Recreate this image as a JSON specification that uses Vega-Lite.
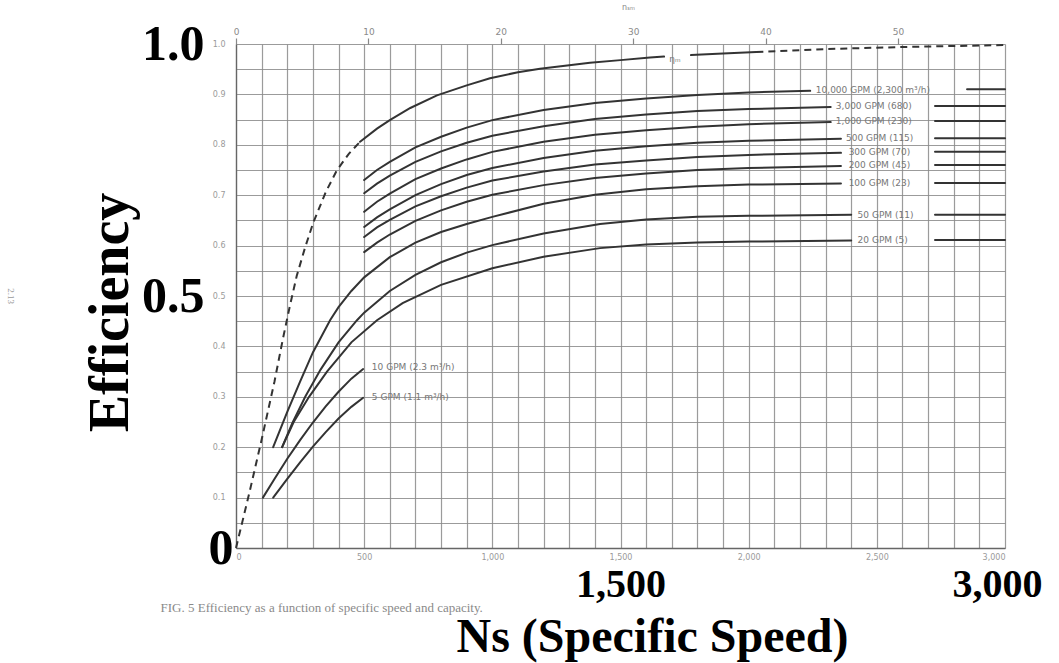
{
  "$schema": "https://vega.github.io/schema/vega-lite/v6.json",
  "width": 769,
  "height": 504,
  "autosize": {"type": "none"},
  "padding": {"left": 236, "top": 44, "right": 54, "bottom": 115},
  "background": "#ffffff",
  "title": {"text": "2.13", "orient": "left", "anchor": "middle", "angle": 90, "fontSize": 9, "fontWeight": "normal", "color": "#9a9a9a", "font": "Liberation Serif", "offset": 58},
  "config": {"view": {"stroke": null}},
  "datasets": {
    "curves": [
      {"c": "eta", "s": "a", "ns": 484, "eff": 0.806}, {"c": "eta", "s": "a", "ns": 550, "eff": 0.832}, {"c": "eta", "s": "a", "ns": 600, "eff": 0.849}, {"c": "eta", "s": "a", "ns": 680, "eff": 0.873}, {"c": "eta", "s": "a", "ns": 784, "eff": 0.898}, {"c": "eta", "s": "a", "ns": 900, "eff": 0.918}, {"c": "eta", "s": "a", "ns": 991, "eff": 0.932}, {"c": "eta", "s": "a", "ns": 1100, "eff": 0.944}, {"c": "eta", "s": "a", "ns": 1186, "eff": 0.951}, {"c": "eta", "s": "a", "ns": 1300, "eff": 0.958}, {"c": "eta", "s": "a", "ns": 1381, "eff": 0.963}, {"c": "eta", "s": "a", "ns": 1500, "eff": 0.968}, {"c": "eta", "s": "a", "ns": 1615, "eff": 0.973}, {"c": "eta", "s": "a", "ns": 1670, "eff": 0.975},
      {"c": "eta", "s": "b", "ns": 1775, "eff": 0.978}, {"c": "eta", "s": "b", "ns": 1900, "eff": 0.981}, {"c": "eta", "s": "b", "ns": 2030, "eff": 0.984},
      {"c": "10000", "s": "a", "ns": 500, "eff": 0.730}, {"c": "10000", "s": "a", "ns": 550, "eff": 0.750}, {"c": "10000", "s": "a", "ns": 600, "eff": 0.766}, {"c": "10000", "s": "a", "ns": 700, "eff": 0.795}, {"c": "10000", "s": "a", "ns": 800, "eff": 0.816}, {"c": "10000", "s": "a", "ns": 900, "eff": 0.834}, {"c": "10000", "s": "a", "ns": 1000, "eff": 0.849}, {"c": "10000", "s": "a", "ns": 1200, "eff": 0.869}, {"c": "10000", "s": "a", "ns": 1400, "eff": 0.883}, {"c": "10000", "s": "a", "ns": 1600, "eff": 0.892}, {"c": "10000", "s": "a", "ns": 1800, "eff": 0.899}, {"c": "10000", "s": "a", "ns": 2000, "eff": 0.904}, {"c": "10000", "s": "a", "ns": 2240, "eff": 0.907},
      {"c": "10000", "s": "b", "ns": 2852, "eff": 0.910}, {"c": "10000", "s": "b", "ns": 3000, "eff": 0.910},
      {"c": "3000", "s": "a", "ns": 500, "eff": 0.704}, {"c": "3000", "s": "a", "ns": 550, "eff": 0.723}, {"c": "3000", "s": "a", "ns": 600, "eff": 0.739}, {"c": "3000", "s": "a", "ns": 700, "eff": 0.766}, {"c": "3000", "s": "a", "ns": 800, "eff": 0.787}, {"c": "3000", "s": "a", "ns": 900, "eff": 0.804}, {"c": "3000", "s": "a", "ns": 1000, "eff": 0.818}, {"c": "3000", "s": "a", "ns": 1200, "eff": 0.837}, {"c": "3000", "s": "a", "ns": 1400, "eff": 0.851}, {"c": "3000", "s": "a", "ns": 1600, "eff": 0.860}, {"c": "3000", "s": "a", "ns": 1800, "eff": 0.867}, {"c": "3000", "s": "a", "ns": 2000, "eff": 0.871}, {"c": "3000", "s": "a", "ns": 2320, "eff": 0.875},
      {"c": "3000", "s": "b", "ns": 2727, "eff": 0.877}, {"c": "3000", "s": "b", "ns": 3000, "eff": 0.877},
      {"c": "1000", "s": "a", "ns": 500, "eff": 0.667}, {"c": "1000", "s": "a", "ns": 550, "eff": 0.687}, {"c": "1000", "s": "a", "ns": 600, "eff": 0.703}, {"c": "1000", "s": "a", "ns": 700, "eff": 0.732}, {"c": "1000", "s": "a", "ns": 800, "eff": 0.753}, {"c": "1000", "s": "a", "ns": 900, "eff": 0.771}, {"c": "1000", "s": "a", "ns": 1000, "eff": 0.786}, {"c": "1000", "s": "a", "ns": 1200, "eff": 0.806}, {"c": "1000", "s": "a", "ns": 1400, "eff": 0.820}, {"c": "1000", "s": "a", "ns": 1600, "eff": 0.829}, {"c": "1000", "s": "a", "ns": 1800, "eff": 0.836}, {"c": "1000", "s": "a", "ns": 2000, "eff": 0.841}, {"c": "1000", "s": "a", "ns": 2320, "eff": 0.845},
      {"c": "1000", "s": "b", "ns": 2727, "eff": 0.847}, {"c": "1000", "s": "b", "ns": 3000, "eff": 0.847},
      {"c": "500", "s": "a", "ns": 500, "eff": 0.637}, {"c": "500", "s": "a", "ns": 550, "eff": 0.656}, {"c": "500", "s": "a", "ns": 600, "eff": 0.672}, {"c": "500", "s": "a", "ns": 700, "eff": 0.700}, {"c": "500", "s": "a", "ns": 800, "eff": 0.722}, {"c": "500", "s": "a", "ns": 900, "eff": 0.740}, {"c": "500", "s": "a", "ns": 1000, "eff": 0.754}, {"c": "500", "s": "a", "ns": 1200, "eff": 0.774}, {"c": "500", "s": "a", "ns": 1400, "eff": 0.788}, {"c": "500", "s": "a", "ns": 1600, "eff": 0.797}, {"c": "500", "s": "a", "ns": 1800, "eff": 0.804}, {"c": "500", "s": "a", "ns": 2000, "eff": 0.808}, {"c": "500", "s": "a", "ns": 2360, "eff": 0.812},
      {"c": "500", "s": "b", "ns": 2727, "eff": 0.813}, {"c": "500", "s": "b", "ns": 3000, "eff": 0.813},
      {"c": "300", "s": "a", "ns": 500, "eff": 0.617}, {"c": "300", "s": "a", "ns": 550, "eff": 0.636}, {"c": "300", "s": "a", "ns": 600, "eff": 0.651}, {"c": "300", "s": "a", "ns": 700, "eff": 0.678}, {"c": "300", "s": "a", "ns": 800, "eff": 0.698}, {"c": "300", "s": "a", "ns": 900, "eff": 0.715}, {"c": "300", "s": "a", "ns": 1000, "eff": 0.729}, {"c": "300", "s": "a", "ns": 1200, "eff": 0.747}, {"c": "300", "s": "a", "ns": 1400, "eff": 0.761}, {"c": "300", "s": "a", "ns": 1600, "eff": 0.769}, {"c": "300", "s": "a", "ns": 1800, "eff": 0.776}, {"c": "300", "s": "a", "ns": 2000, "eff": 0.780}, {"c": "300", "s": "a", "ns": 2360, "eff": 0.784},
      {"c": "300", "s": "b", "ns": 2727, "eff": 0.786}, {"c": "300", "s": "b", "ns": 3000, "eff": 0.786},
      {"c": "200", "s": "a", "ns": 500, "eff": 0.587}, {"c": "200", "s": "a", "ns": 550, "eff": 0.606}, {"c": "200", "s": "a", "ns": 600, "eff": 0.622}, {"c": "200", "s": "a", "ns": 700, "eff": 0.649}, {"c": "200", "s": "a", "ns": 800, "eff": 0.670}, {"c": "200", "s": "a", "ns": 900, "eff": 0.687}, {"c": "200", "s": "a", "ns": 1000, "eff": 0.701}, {"c": "200", "s": "a", "ns": 1200, "eff": 0.720}, {"c": "200", "s": "a", "ns": 1400, "eff": 0.734}, {"c": "200", "s": "a", "ns": 1600, "eff": 0.743}, {"c": "200", "s": "a", "ns": 1800, "eff": 0.750}, {"c": "200", "s": "a", "ns": 2000, "eff": 0.754}, {"c": "200", "s": "a", "ns": 2360, "eff": 0.758},
      {"c": "200", "s": "b", "ns": 2727, "eff": 0.760}, {"c": "200", "s": "b", "ns": 3000, "eff": 0.760},
      {"c": "100", "s": "a", "ns": 145, "eff": 0.200}, {"c": "100", "s": "a", "ns": 200, "eff": 0.270}, {"c": "100", "s": "a", "ns": 250, "eff": 0.330}, {"c": "100", "s": "a", "ns": 300, "eff": 0.388}, {"c": "100", "s": "a", "ns": 367, "eff": 0.452}, {"c": "100", "s": "a", "ns": 400, "eff": 0.478}, {"c": "100", "s": "a", "ns": 450, "eff": 0.510}, {"c": "100", "s": "a", "ns": 500, "eff": 0.537}, {"c": "100", "s": "a", "ns": 600, "eff": 0.577}, {"c": "100", "s": "a", "ns": 700, "eff": 0.606}, {"c": "100", "s": "a", "ns": 800, "eff": 0.627}, {"c": "100", "s": "a", "ns": 900, "eff": 0.643}, {"c": "100", "s": "a", "ns": 1000, "eff": 0.657}, {"c": "100", "s": "a", "ns": 1200, "eff": 0.683}, {"c": "100", "s": "a", "ns": 1400, "eff": 0.701}, {"c": "100", "s": "a", "ns": 1600, "eff": 0.712}, {"c": "100", "s": "a", "ns": 1800, "eff": 0.718}, {"c": "100", "s": "a", "ns": 2000, "eff": 0.721}, {"c": "100", "s": "a", "ns": 2360, "eff": 0.723},
      {"c": "100", "s": "b", "ns": 2727, "eff": 0.724}, {"c": "100", "s": "b", "ns": 3000, "eff": 0.724},
      {"c": "50", "s": "a", "ns": 180, "eff": 0.200}, {"c": "50", "s": "a", "ns": 220, "eff": 0.248}, {"c": "50", "s": "a", "ns": 270, "eff": 0.300}, {"c": "50", "s": "a", "ns": 330, "eff": 0.354}, {"c": "50", "s": "a", "ns": 400, "eff": 0.408}, {"c": "50", "s": "a", "ns": 472, "eff": 0.452}, {"c": "50", "s": "a", "ns": 500, "eff": 0.467}, {"c": "50", "s": "a", "ns": 600, "eff": 0.510}, {"c": "50", "s": "a", "ns": 700, "eff": 0.542}, {"c": "50", "s": "a", "ns": 800, "eff": 0.567}, {"c": "50", "s": "a", "ns": 900, "eff": 0.586}, {"c": "50", "s": "a", "ns": 1000, "eff": 0.601}, {"c": "50", "s": "a", "ns": 1200, "eff": 0.624}, {"c": "50", "s": "a", "ns": 1420, "eff": 0.643}, {"c": "50", "s": "a", "ns": 1600, "eff": 0.652}, {"c": "50", "s": "a", "ns": 1800, "eff": 0.657}, {"c": "50", "s": "a", "ns": 2000, "eff": 0.659}, {"c": "50", "s": "a", "ns": 2400, "eff": 0.661},
      {"c": "50", "s": "b", "ns": 2727, "eff": 0.661}, {"c": "50", "s": "b", "ns": 3000, "eff": 0.661},
      {"c": "20", "s": "a", "ns": 180, "eff": 0.200}, {"c": "20", "s": "a", "ns": 225, "eff": 0.250}, {"c": "20", "s": "a", "ns": 285, "eff": 0.300}, {"c": "20", "s": "a", "ns": 355, "eff": 0.350}, {"c": "20", "s": "a", "ns": 450, "eff": 0.408}, {"c": "20", "s": "a", "ns": 550, "eff": 0.452}, {"c": "20", "s": "a", "ns": 650, "eff": 0.486}, {"c": "20", "s": "a", "ns": 800, "eff": 0.522}, {"c": "20", "s": "a", "ns": 1000, "eff": 0.555}, {"c": "20", "s": "a", "ns": 1200, "eff": 0.578}, {"c": "20", "s": "a", "ns": 1420, "eff": 0.595}, {"c": "20", "s": "a", "ns": 1600, "eff": 0.602}, {"c": "20", "s": "a", "ns": 1800, "eff": 0.606}, {"c": "20", "s": "a", "ns": 2000, "eff": 0.608}, {"c": "20", "s": "a", "ns": 2400, "eff": 0.610},
      {"c": "20", "s": "b", "ns": 2727, "eff": 0.611}, {"c": "20", "s": "b", "ns": 3000, "eff": 0.611},
      {"c": "10", "s": "a", "ns": 105, "eff": 0.100}, {"c": "10", "s": "a", "ns": 150, "eff": 0.137}, {"c": "10", "s": "a", "ns": 200, "eff": 0.177}, {"c": "10", "s": "a", "ns": 250, "eff": 0.214}, {"c": "10", "s": "a", "ns": 300, "eff": 0.249}, {"c": "10", "s": "a", "ns": 350, "eff": 0.281}, {"c": "10", "s": "a", "ns": 400, "eff": 0.310}, {"c": "10", "s": "a", "ns": 450, "eff": 0.336}, {"c": "10", "s": "a", "ns": 496, "eff": 0.355},
      {"c": "5", "s": "a", "ns": 145, "eff": 0.100}, {"c": "5", "s": "a", "ns": 200, "eff": 0.137}, {"c": "5", "s": "a", "ns": 250, "eff": 0.170}, {"c": "5", "s": "a", "ns": 300, "eff": 0.201}, {"c": "5", "s": "a", "ns": 350, "eff": 0.230}, {"c": "5", "s": "a", "ns": 400, "eff": 0.257}, {"c": "5", "s": "a", "ns": 450, "eff": 0.280}, {"c": "5", "s": "a", "ns": 496, "eff": 0.298}
    ],
    "dashed": [
      {"s": "lo", "ns": 0, "eff": 0}, {"s": "lo", "ns": 50, "eff": 0.105}, {"s": "lo", "ns": 100, "eff": 0.215}, {"s": "lo", "ns": 150, "eff": 0.330}, {"s": "lo", "ns": 183, "eff": 0.415}, {"s": "lo", "ns": 210, "eff": 0.480}, {"s": "lo", "ns": 237, "eff": 0.540}, {"s": "lo", "ns": 270, "eff": 0.597}, {"s": "lo", "ns": 301, "eff": 0.645}, {"s": "lo", "ns": 350, "eff": 0.706}, {"s": "lo", "ns": 393, "eff": 0.749}, {"s": "lo", "ns": 440, "eff": 0.782}, {"s": "lo", "ns": 484, "eff": 0.806},
      {"s": "hi", "ns": 2030, "eff": 0.984}, {"s": "hi", "ns": 2300, "eff": 0.990}, {"s": "hi", "ns": 2600, "eff": 0.994}, {"s": "hi", "ns": 3000, "eff": 0.998}
    ],
    "labels": [
      {"t": "10,000 GPM (2,300 m³/h)", "ns": 2262, "eff": 0.909},
      {"t": "3,000 GPM (680)", "ns": 2340, "eff": 0.877},
      {"t": "1,000 GPM (230)", "ns": 2340, "eff": 0.847},
      {"t": "500 GPM (115)", "ns": 2380, "eff": 0.813},
      {"t": "300 GPM (70)", "ns": 2390, "eff": 0.786},
      {"t": "200 GPM (45)", "ns": 2390, "eff": 0.760},
      {"t": "100 GPM (23)", "ns": 2390, "eff": 0.724},
      {"t": "50 GPM (11)", "ns": 2425, "eff": 0.661},
      {"t": "20 GPM (5)", "ns": 2425, "eff": 0.611},
      {"t": "10 GPM (2.3 m³/h)", "ns": 530, "eff": 0.360},
      {"t": "5 GPM (1.1 m³/h)", "ns": 530, "eff": 0.300},
      {"t": "ηₘ", "ns": 1690, "eff": 0.970}
    ]
  },
  "layer": [
    {
      "data": {"name": "curves"},
      "mark": {"type": "line", "color": "#333333", "strokeWidth": 2, "strokeCap": "round"},
      "encoding": {
        "x": {"field": "ns", "type": "quantitative", "scale": {"domain": [0, 3000], "nice": false, "zero": false},
          "axis": {"orient": "bottom", "values": [0,100,200,300,400,500,600,700,800,900,1000,1100,1200,1300,1400,1500,1600,1700,1800,1900,2000,2100,2200,2300,2400,2500,2600,2700,2800,2900,3000],
            "labelExpr": "datum.value % 500 === 0 ? format(datum.value, ',') : ''",
            "grid": true, "gridColor": "#8a8a8a", "gridWidth": 1.2, "gridOpacity": 0.85,
            "ticks": false, "domain": true, "domainColor": "#666666", "domainWidth": 1.3,
            "labelFont": "DejaVu Sans", "labelFontSize": 8, "labelColor": "#9a9a9a", "labelPadding": 5, "labelOverlap": false,
            "title": "FIG. 5   Efficiency as a function of specific speed and capacity.",
            "titleX": -76, "titleY": 59, "titleAlign": "left", "titleBaseline": "middle",
            "titleFont": "Liberation Serif", "titleFontSize": 13, "titleFontWeight": "normal", "titleColor": "#8a8a8a"}},
        "y": {"field": "eff", "type": "quantitative", "scale": {"domain": [0, 1], "nice": false, "zero": false},
          "axis": {"orient": "left", "values": [0,0.05,0.1,0.15,0.2,0.25,0.3,0.35,0.4,0.45,0.5,0.55,0.6,0.65,0.7,0.75,0.8,0.85,0.9,0.95,1],
            "labelExpr": "(datum.value > 0.01 && round(datum.value * 20) % 2 === 0) ? format(datum.value, '.1f') : ''",
            "grid": true, "gridColor": "#8a8a8a", "gridWidth": 1.2, "gridOpacity": 0.85,
            "ticks": false, "domain": true, "domainColor": "#666666", "domainWidth": 1.3,
            "labelFont": "DejaVu Sans", "labelFontSize": 8, "labelColor": "#9a9a9a", "labelPadding": 11, "labelOverlap": false,
            "title": null}},
        "detail": [{"field": "c"}, {"field": "s"}]
      }
    },
    {
      "data": {"name": "dashed"},
      "mark": {"type": "line", "color": "#333333", "strokeWidth": 2, "strokeDash": [7, 5]},
      "encoding": {
        "x": {"field": "ns", "type": "quantitative", "axis": null},
        "y": {"field": "eff", "type": "quantitative", "axis": null},
        "detail": {"field": "s"}
      }
    },
    {
      "data": {"name": "labels"},
      "mark": {"type": "text", "align": "left", "baseline": "middle", "font": "DejaVu Sans", "fontSize": 9, "color": "#777777"},
      "encoding": {
        "x": {"field": "ns", "type": "quantitative", "axis": null},
        "y": {"field": "eff", "type": "quantitative", "axis": null},
        "text": {"field": "t"}
      }
    },
    {
      "data": {"values": [{"ns": 0, "eff": 0}]},
      "mark": {"type": "point", "opacity": 0},
      "encoding": {
        "x": {"field": "ns", "type": "quantitative",
          "axis": {"orient": "bottom", "values": [1500, 3000], "labelExpr": "format(datum.value, ',')", "grid": false, "ticks": false, "domain": false,
            "labelFont": "Liberation Serif", "labelFontWeight": "bold", "labelFontSize": 40, "labelColor": "#000000", "labelPadding": 16,
            "labelFlush": false, "labelOverlap": false,
            "labelOffset": {"condition": {"test": "datum.value === 3000", "value": -8}, "value": 0},
            "title": "Ns (Specific Speed)", "titleX": 416, "titleY": 103, "titleBaseline": "alphabetic", "titleAlign": "center",
            "titleFont": "Liberation Serif", "titleFontWeight": "bold", "titleFontSize": 48, "titleColor": "#000000"}},
        "y": {"field": "eff", "type": "quantitative",
          "axis": {"orient": "left", "values": [0, 0.5, 1], "labelExpr": "datum.value === 0 ? '0' : format(datum.value, '.1f')",
            "grid": false, "ticks": false, "domain": false,
            "labelFont": "Liberation Serif", "labelFontWeight": "bold", "labelFontSize": 50, "labelColor": "#000000",
            "labelPadding": {"condition": {"test": "datum.value === 0", "value": 3}, "value": 32},
            "labelBaseline": "middle", "labelOverlap": false, "labelFlush": false,
            "title": "Efficiency", "titleX": -126, "titleY": 268, "titleAngle": 270, "titleAlign": "center", "titleBaseline": "middle",
            "titleFont": "Liberation Serif", "titleFontWeight": "bold", "titleFontSize": 56, "titleColor": "#000000"}}
      }
    },
    {
      "data": {"values": [{"ns": 0, "eff": 0}]},
      "mark": {"type": "point", "opacity": 0},
      "encoding": {
        "x": {"field": "ns", "type": "quantitative",
          "axis": {"orient": "top", "values": [0, 516.5, 1033, 1549.5, 2066, 2582.5],
            "labelExpr": "format(round(datum.value / 51.65), 'd')",
            "grid": false, "ticks": true, "tickSize": 6, "tickColor": "#888888", "tickWidth": 1.2, "domain": false,
            "labelFont": "DejaVu Sans", "labelFontSize": 9, "labelColor": "#8a8a8a", "labelPadding": 2, "labelFlush": false, "labelOverlap": false,
            "title": "nₛₘ", "titleX": 392, "titleY": -33, "titleFont": "DejaVu Sans", "titleFontSize": 8, "titleFontWeight": "normal", "titleColor": "#8a8a8a"}}
      }
    }
  ],
  "resolve": {"axis": {"x": "independent", "y": "independent"}}
}
